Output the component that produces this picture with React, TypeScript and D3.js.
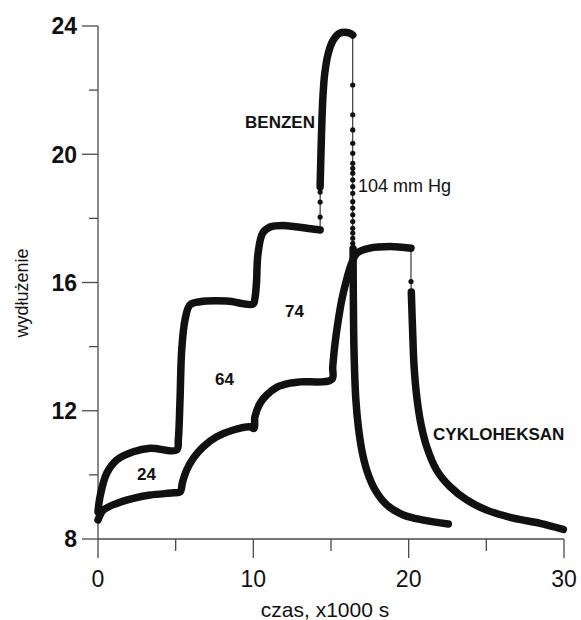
import * as d3 from 'd3'
import { useEffect, useRef } from 'react'

type Pt = [number, number]

// BENZEN – dense runs and sparse jump dots (t in 1000 s, elongation)
const benzenRise: Pt[] = [
  [0, 8.85], [0.13, 9.32], [0.56, 10.05], [1.2, 10.46], [2.27, 10.72], [3.35, 10.83],
  [5.07, 10.78], [5.17, 11.09], [5.28, 12.34], [5.39, 13.9], [5.6, 14.83], [5.92, 15.3],
  [6.57, 15.4], [8.3, 15.42], [9.98, 15.33], [10.1, 15.5], [10.2, 15.98], [10.3, 16.9],
  [10.6, 17.54], [11.07, 17.73], [11.9, 17.78], [13.9, 17.66], [14.3, 17.64]
]
const benzenJump: Pt[] = [[14.3, 18.04], [14.3, 18.51], [14.3, 18.82]]
const benzenPeak: Pt[] = [
  [14.3, 18.98], [14.36, 20.13], [14.47, 21.7], [14.6, 22.53], [14.83, 23.16],
  [15.15, 23.56], [15.58, 23.78], [16.2, 23.78], [16.4, 23.72]
]
const benzenDrop: Pt[] = [
  22.16, 21.23, 20.76, 20.34, 20.03, 19.72, 19.56, 19.41, 19.2, 18.99, 18.78,
  18.52, 18.32, 18.11, 17.9, 17.69, 17.54, 17.38, 17.22
].map((v) => [16.4, v] as Pt)
const benzenDecay: Pt[] = [
  [16.42, 17.05], [16.44, 15.45], [16.48, 13.9], [16.6, 12.34], [16.76, 11.5],
  [16.98, 10.78], [17.3, 10.15], [17.84, 9.53], [18.6, 9.06], [19.66, 8.75],
  [20.95, 8.59], [22.55, 8.47]
]

// CYKLOHEKSAN
const cykloRise: Pt[] = [
  [0, 8.59], [0.34, 8.9], [1.2, 9.11], [2.27, 9.27], [3.35, 9.37], [4.85, 9.44],
  [5.28, 9.47], [5.45, 9.79], [5.71, 10.15], [6.14, 10.52], [6.78, 10.88], [7.64, 11.19],
  [8.71, 11.4], [9.79, 11.5], [10.05, 11.45], [10.1, 11.81], [10.43, 12.23], [10.86, 12.49],
  [11.5, 12.73], [12.36, 12.86], [13.0, 12.9], [15.05, 12.98], [15.11, 13.37], [15.26, 14.1],
  [15.47, 14.83], [15.69, 15.45], [16.0, 16.08], [16.33, 16.6], [16.66, 16.91], [17.5, 17.07],
  [18.8, 17.12], [20.15, 17.07]
]
const cykloDrop: Pt[] = [[20.15, 16.03]]
const cykloDecay: Pt[] = [
  [20.17, 15.7], [20.26, 14.42], [20.35, 13.37], [20.52, 12.44], [20.78, 11.61],
  [21.16, 10.88], [21.8, 10.15], [22.67, 9.63], [23.74, 9.22], [25.03, 8.9],
  [26.74, 8.65], [28.46, 8.49], [29.96, 8.3]
]

const xTicks = [0, 10, 20, 30]
const xMinor = [5, 15, 25]
const yTicks = [8, 12, 16, 20, 24]
const yMinor = [10, 14, 18, 22]

const labels = [
  { text: 'BENZEN', t: 13.97, v: 20.82, anchor: 'end', bold: true },
  { text: '104 mm Hg', t: 16.74, v: 18.82, anchor: 'start', bold: false },
  { text: '74', t: 12.04, v: 14.92, anchor: 'start', bold: true },
  { text: '64', t: 7.53, v: 12.8, anchor: 'start', bold: true },
  { text: '24', t: 2.51, v: 9.84, anchor: 'start', bold: true },
  { text: 'CYKLOHEKSAN', t: 21.57, v: 11.09, anchor: 'start', bold: true }
]

const FONT = 'Liberation Sans, Arial, sans-serif'

export default function App() {
  const ref = useRef<SVGSVGElement>(null)

  useEffect(() => {
    const svg = d3.select(ref.current)
    svg.selectAll('*').remove()

    const x = d3.scaleLinear().domain([0, 30]).range([98, 564])
    const y = d3.scaleLinear().domain([8, 24]).range([539, 26])
    const axisColor = '#4a4a4a'
    const ink = '#111'

    // y axis
    svg.append('line').attr('x1', x(0)).attr('x2', x(0)).attr('y1', y(24)).attr('y2', y(8))
      .attr('stroke', axisColor).attr('stroke-width', 1.3)
    svg.selectAll('.ymaj').data(yTicks).enter().append('line')
      .attr('x1', x(0) - 16).attr('x2', x(0)).attr('y1', (d) => y(d)).attr('y2', (d) => y(d))
      .attr('stroke', axisColor).attr('stroke-width', 1.3)
    svg.selectAll('.ymin').data(yMinor).enter().append('line')
      .attr('x1', x(0) - 9).attr('x2', x(0)).attr('y1', (d) => y(d)).attr('y2', (d) => y(d))
      .attr('stroke', axisColor).attr('stroke-width', 1.3)
    svg.selectAll('.ylab').data(yTicks).enter().append('text')
      .attr('x', 77).attr('y', (d) => y(d)).attr('dy', '0.36em')
      .attr('text-anchor', 'end').attr('font-family', FONT).attr('font-weight', 'bold')
      .attr('font-size', 23).attr('fill', ink).text((d) => d)

    // x axis
    svg.append('line').attr('x1', x(0)).attr('x2', x(30)).attr('y1', y(8)).attr('y2', y(8))
      .attr('stroke', axisColor).attr('stroke-width', 1.3)
    svg.selectAll('.xmaj').data(xTicks).enter().append('line')
      .attr('x1', (d) => x(d)).attr('x2', (d) => x(d)).attr('y1', y(8)).attr('y2', y(8) + 19)
      .attr('stroke', axisColor).attr('stroke-width', 1.3)
    svg.selectAll('.xmin').data(xMinor).enter().append('line')
      .attr('x1', (d) => x(d)).attr('x2', (d) => x(d)).attr('y1', y(8)).attr('y2', y(8) + 12)
      .attr('stroke', axisColor).attr('stroke-width', 1.3)
    svg.selectAll('.xlab').data(xTicks).enter().append('text')
      .attr('x', (d) => x(d)).attr('y', 587)
      .attr('text-anchor', 'middle').attr('font-family', FONT)
      .attr('font-size', 23).attr('fill', ink).text((d) => d)

    // axis titles
    svg.append('text').attr('x', 325).attr('y', 617).attr('text-anchor', 'middle')
      .attr('font-family', FONT).attr('font-size', 21).attr('fill', ink).text('czas, x1000 s')
    svg.append('text').attr('transform', 'translate(28,293) rotate(-90)').attr('text-anchor', 'middle')
      .attr('font-family', FONT).attr('font-size', 18).attr('fill', ink).text('wydłużenie')

    const thin = d3.line<Pt>().x((d) => x(d[0])).y((d) => y(d[1]))
    const thick = d3.line<Pt>().x((d) => x(d[0])).y((d) => y(d[1])).curve(d3.curveCatmullRom.alpha(0.5))

    const series = [
      { dense: [benzenRise, benzenPeak, benzenDecay], dots: [...benzenJump, ...benzenDrop],
        all: [...benzenRise, ...benzenJump, ...benzenPeak, ...benzenDrop, ...benzenDecay] },
      { dense: [cykloRise, cykloDecay], dots: cykloDrop,
        all: [...cykloRise, ...cykloDrop, ...cykloDecay] }
    ]

    series.forEach((s) => {
      svg.append('path').datum(s.all).attr('d', thin).attr('fill', 'none')
        .attr('stroke', ink).attr('stroke-width', 1)
      s.dense.forEach((seg) => {
        svg.append('path').datum(seg).attr('d', thick).attr('fill', 'none')
          .attr('stroke', ink).attr('stroke-width', 7.5)
          .attr('stroke-linecap', 'round').attr('stroke-linejoin', 'round')
      })
      svg.selectAll(null).data(s.dots).enter().append('circle')
        .attr('cx', (d) => x(d[0])).attr('cy', (d) => y(d[1])).attr('r', 2.6).attr('fill', ink)
    })

    // annotations
    svg.selectAll('.ann').data(labels).enter().append('text')
      .attr('x', (d) => x(d.t)).attr('y', (d) => y(d.v))
      .attr('text-anchor', (d) => d.anchor)
      .attr('font-family', FONT).attr('font-size', (d) => (d.bold ? 17 : 18))
      .attr('font-weight', (d) => (d.bold ? 'bold' : 'normal'))
      .attr('fill', ink).text((d) => d.text)
  }, [])

  return (
    <svg ref={ref} width={581} height={620}
      style={{ position: 'absolute', left: 0, top: 0, background: '#fff' }} />
  )
}
